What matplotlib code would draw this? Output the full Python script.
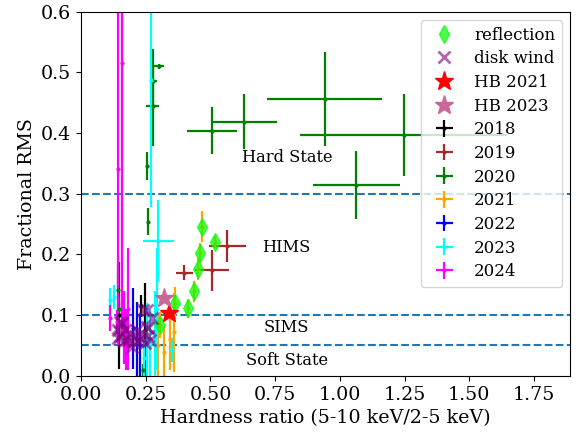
import matplotlib
matplotlib.use("Agg")
import matplotlib.pyplot as plt
import numpy as np

plt.rcParams['font.family'] = 'serif'
plt.rcParams['font.serif'] = ['DejaVu Serif']

years = ['2018', '2019', '2020', '2021', '2022', '2023', '2024']
year_colors = ['black', 'brown', 'green', 'orange', 'blue', 'cyan', 'magenta']

# (x, y, xerr, yerr) per year
d2018_x = [0.148, 0.247, 0.232]
d2018_y = [0.100, 0.075, 0.115]
d2018_xe = [0.003, 0.003, 0.003]
d2018_ye = [0.088, 0.078, 0.018]

d2019_x = [0.399, 0.506, 0.565]
d2019_y = [0.170, 0.174, 0.214]
d2019_xe = [0.034, 0.065, 0.072]
d2019_ye = [0.012, 0.034, 0.027]

d2020_x = [0.505, 0.629, 0.942, 1.247, 1.064, 0.300, 0.279, 0.277, 0.255, 0.258, 0.144, 0.146, 0.240]
d2020_y = [0.404, 0.419, 0.456, 0.397, 0.315, 0.510, 0.486, 0.444, 0.346, 0.254, 0.142, 0.110, 0.010]
d2020_xe = [0.097, 0.126, 0.222, 0.400, 0.168, 0.020, 0.013, 0.025, 0.004, 0.004, 0.003, 0.003, 0.003]
d2020_ye = [0.039, 0.046, 0.078, 0.067, 0.056, 0.004, 0.052, 0.065, 0.023, 0.022, 0.040, 0.020, 0.010]

d2021_x = [0.466, 0.517, 0.459, 0.450, 0.437, 0.414, 0.363, 0.305, 0.298, 0.360, 0.344, 0.320]
d2021_y = [0.246, 0.220, 0.203, 0.176, 0.139, 0.111, 0.120, 0.084, 0.050, 0.072, 0.060, 0.040]
d2021_xe = [0.005, 0.005, 0.005, 0.005, 0.005, 0.005, 0.005, 0.005, 0.004, 0.004, 0.004, 0.004]
d2021_ye = [0.026, 0.010, 0.016, 0.018, 0.018, 0.016, 0.027, 0.022, 0.050, 0.065, 0.050, 0.040]

d2022_x = [0.202, 0.215, 0.228]
d2022_y = [0.078, 0.060, 0.050]
d2022_xe = [0.003, 0.003, 0.003]
d2022_ye = [0.067, 0.062, 0.050]

d2023_x = [0.112, 0.128, 0.270, 0.299, 0.350, 0.255, 0.265, 0.285, 0.292, 0.245]
d2023_y = [0.125, 0.130, 0.488, 0.222, 0.043, 0.060, 0.050, 0.070, 0.110, 0.030]
d2023_xe = [0.003, 0.003, 0.004, 0.059, 0.010, 0.004, 0.004, 0.004, 0.004, 0.004]
d2023_ye = [0.020, 0.020, 0.210, 0.067, 0.020, 0.060, 0.060, 0.070, 0.100, 0.030]

d2024_x = [0.141, 0.159, 0.112, 0.138, 0.165, 0.175, 0.180]
d2024_y = [0.340, 0.516, 0.095, 0.089, 0.080, 0.060, 0.110]
d2024_xe = [0.002, 0.002, 0.002, 0.002, 0.003, 0.003, 0.003]
d2024_ye = [0.290, 0.450, 0.021, 0.020, 0.060, 0.050, 0.100]

refl_x = [0.466, 0.517, 0.459, 0.450, 0.437, 0.414, 0.363, 0.305]
refl_y = [0.246, 0.220, 0.203, 0.176, 0.139, 0.111, 0.120, 0.084]

wind_x = [0.157, 0.170, 0.151, 0.183, 0.209, 0.221, 0.247, 0.241, 0.260, 0.196, 0.144,
          0.151, 0.234, 0.254, 0.273, 0.254, 0.260, 0.266, 0.190, 0.200, 0.215, 0.165, 0.143]
wind_y = [0.087, 0.076, 0.065, 0.059, 0.065, 0.057, 0.054, 0.109, 0.065, 0.048, 0.076,
          0.089, 0.062, 0.081, 0.095, 0.109, 0.079, 0.059, 0.070, 0.055, 0.075, 0.058, 0.062]

hb2021 = (0.340, 0.103)
hb2023 = (0.320, 0.129)

state_lines = [0.3, 0.1, 0.05]
state_labels = ['Hard State', 'HIMS', 'SIMS', 'Soft State']
state_label_x = [0.62, 0.70, 0.706, 0.637]
state_label_y = [0.359, 0.212, 0.079, 0.026]

data = {
    '2018': (d2018_x, d2018_y, d2018_xe, d2018_ye),
    '2019': (d2019_x, d2019_y, d2019_xe, d2019_ye),
    '2020': (d2020_x, d2020_y, d2020_xe, d2020_ye),
    '2021': (d2021_x, d2021_y, d2021_xe, d2021_ye),
    '2022': (d2022_x, d2022_y, d2022_xe, d2022_ye),
    '2023': (d2023_x, d2023_y, d2023_xe, d2023_ye),
    '2024': (d2024_x, d2024_y, d2024_xe, d2024_ye),
}

fig = plt.figure(figsize=(5.79, 4.32), dpi=100)
ax = fig.add_axes([0.14, 0.13, 0.845, 0.843])

handles = {}
for yr, c in zip(years, year_colors):
    x, y, xe, ye = data[yr]
    h = ax.errorbar(x, y, xerr=xe, yerr=ye, fmt='.', color=c, ecolor=c,
                    markersize=4, elinewidth=1.6, capsize=0, label=yr, zorder=2)
    handles[yr] = h

h_refl, = ax.plot(refl_x, refl_y, 'd', color='lime', alpha=0.7, markersize=9,
                  linestyle='none', label='reflection', zorder=3)
h_wind, = ax.plot(wind_x, wind_y, 'x', color='purple', alpha=0.6, markersize=9,
                  markeredgewidth=2, linestyle='none', label='disk wind', zorder=4)
h_hb21, = ax.plot([hb2021[0]], [hb2021[1]], '*', color='red', markersize=14,
                  linestyle='none', label='HB 2021', zorder=5)
h_hb23, = ax.plot([hb2023[0]], [hb2023[1]], '*', color='#cc6699', markersize=14,
                  linestyle='none', label='HB 2023', zorder=5)

for yv in state_lines:
    ax.axhline(yv, color='tab:blue', linestyle='--', linewidth=1.5, zorder=1)

for lab, tx, ty in zip(state_labels, state_label_x, state_label_y):
    ax.text(tx, ty, lab, fontsize=11.7, va='center', ha='left')

ax.set_xlim(0, 1.89)
ax.set_ylim(0, 0.6)
ax.set_xlabel('Hardness ratio (5-10 keV/2-5 keV)', fontsize=13.7)
ax.set_ylabel('Fractional RMS', fontsize=13.7)
ax.tick_params(labelsize=13.7)
ax.set_xticks(np.arange(0, 1.76, 0.25))

order = [h_refl, h_wind, h_hb21, h_hb23] + [handles[y] for y in years]
ax.legend(handles=order, loc='upper right', fontsize=12, handletextpad=0.8,
          labelspacing=0.4, borderpad=0.4)

fig.savefig('out.png', dpi=100)
